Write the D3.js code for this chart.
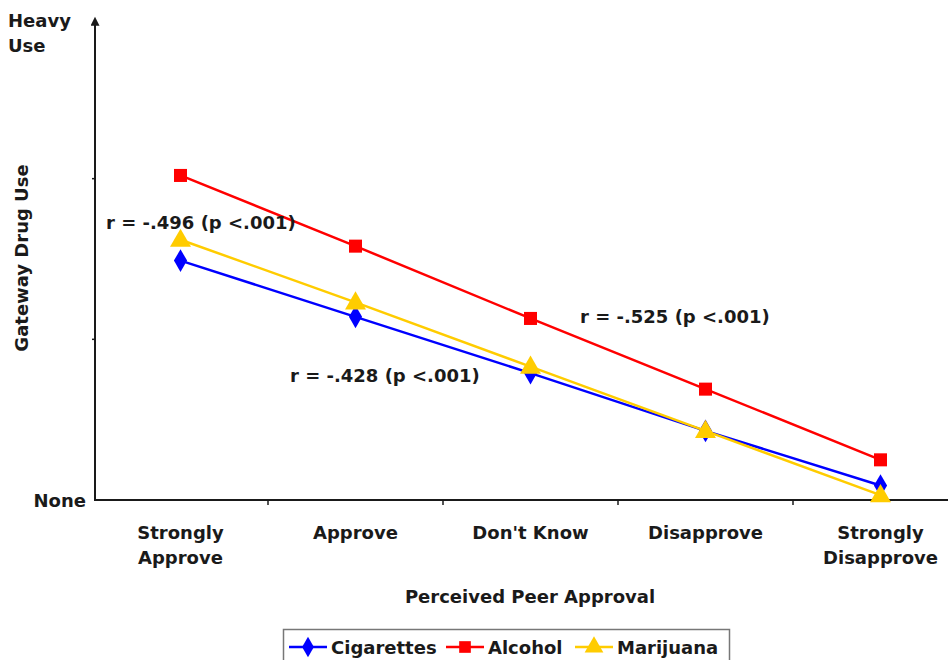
<!DOCTYPE html>
<html>
<head>
<meta charset="utf-8">
<script src="https://cdn.jsdelivr.net/npm/d3@7"></script>
<style>
  body { margin: 0; background: #fff; }
  text { font-family: "DejaVu Sans", sans-serif; font-weight: bold; fill: #1a1a1a; }
</style>
</head>
<body>
<div id="wrapper"></div>
<script>
// categories on the x axis (two-line labels)
const categories = ["Strongly Approve", "Approve", "Don't Know", "Disapprove", "Strongly Disapprove"];
const categoryLines = [["Strongly", "Approve"], ["Approve"], ["Don't Know"], ["Disapprove"], ["Strongly", "Disapprove"]];

// series values (0 = None, 3 = Heavy Use)
const cigarettes = [1.49, 1.14, 0.79, 0.43, 0.09];
const alcohol = [2.02, 1.58, 1.13, 0.69, 0.25];
const marijuana = [1.62, 1.23, 0.83, 0.43, 0.03];

const seriesNames = ["Cigarettes", "Alcohol", "Marijuana"];
const seriesColors = ["#0000ff", "#ff0000", "#ffcc00"];
const seriesShapes = [d3.symbolDiamond, d3.symbolSquare, d3.symbolTriangle];

const annotations = ["r = -.496 (p <.001)", "r = -.525 (p <.001)", "r = -.428 (p <.001)"];

const width = 948;
const height = 660;
const fs = 18;

const canvas = d3.select("#wrapper")
  .append("svg")
  .attr("width", width)
  .attr("height", height);

const xScale = d3.scaleBand()
  .domain(categories)
  .range([93, 968]);

const yScale = d3.scaleLinear()
  .domain([0, 3])
  .range([500, 18]);

// y axis with arrow
canvas.append("defs").append("marker")
  .attr("id", "arrow")
  .attr("viewBox", "0 0 10 10")
  .attr("refX", 2).attr("refY", 5)
  .attr("markerWidth", 10).attr("markerHeight", 9)
  .attr("markerUnits", "userSpaceOnUse")
  .attr("orient", "auto")
  .append("path")
  .attr("d", "M0,0 L10,5 L0,10 Z")
  .attr("fill", "#1a1a1a");

canvas.append("line")
  .attr("x1", 95).attr("x2", 95)
  .attr("y1", 501).attr("y2", yScale(3) + 6)
  .attr("stroke", "#1a1a1a").attr("stroke-width", 2)
  .attr("marker-end", "url(#arrow)");

// small y ticks
canvas.selectAll(".ytick")
  .data([1, 2])
  .enter().append("line")
  .attr("x1", 92).attr("x2", 95)
  .attr("y1", d => yScale(d)).attr("y2", d => yScale(d))
  .attr("stroke", "#1a1a1a").attr("stroke-width", 1.5);

// x axis
canvas.append("line")
  .attr("x1", 94).attr("x2", width)
  .attr("y1", 500).attr("y2", 500)
  .attr("stroke", "#1a1a1a").attr("stroke-width", 2);

canvas.selectAll(".xtick")
  .data(categories.slice(1))
  .enter().append("line")
  .attr("x1", d => xScale(d)).attr("x2", d => xScale(d))
  .attr("y1", 500).attr("y2", 505)
  .attr("stroke", "#1a1a1a").attr("stroke-width", 1.5);

// category labels
categories.forEach(function(c, i) {
  const t = canvas.append("text")
    .attr("x", xScale(c) + xScale.bandwidth() / 2)
    .attr("y", 539)
    .attr("text-anchor", "middle")
    .attr("font-size", fs);
  categoryLines[i].forEach(function(line, j) {
    t.append("tspan")
      .attr("x", xScale(c) + xScale.bandwidth() / 2)
      .attr("dy", j === 0 ? 0 : 25)
      .text(line);
  });
});

// y labels
canvas.append("text").attr("x", 8).attr("y", 27).attr("font-size", fs).text("Heavy");
canvas.append("text").attr("x", 8).attr("y", 52).attr("font-size", fs).text("Use");
canvas.append("text").attr("x", 86).attr("y", 507).attr("text-anchor", "end").attr("font-size", fs).text("None");

canvas.append("text")
  .attr("transform", "translate(28,258) rotate(-90)")
  .attr("text-anchor", "middle")
  .attr("font-size", fs)
  .text("Gateway Drug Use");

canvas.append("text")
  .attr("x", 530).attr("y", 603)
  .attr("text-anchor", "middle")
  .attr("font-size", fs)
  .text("Perceived Peer Approval");

// series
const allSeries = [cigarettes, alcohol, marijuana];
const line = d3.line()
  .x((d, i) => xScale(categories[i]) + xScale.bandwidth() / 2)
  .y(d => yScale(d));

const markerSizes = [150, 170, 190];

allSeries.forEach(function(values, s) {
  canvas.append("path")
    .attr("d", line(values))
    .attr("fill", "none")
    .attr("stroke", seriesColors[s])
    .attr("stroke-width", 2.5);
  canvas.selectAll(".m" + s)
    .data(values)
    .enter().append("path")
    .attr("transform", (d, i) => "translate(" + (xScale(categories[i]) + xScale.bandwidth() / 2) + "," + (yScale(d) + (s === 2 ? 1 : 0)) + ")")
    .attr("d", d3.symbol().type(seriesShapes[s]).size(markerSizes[s]))
    .attr("fill", seriesColors[s]);
});

// correlation annotations
canvas.append("text").attr("x", 106).attr("y", 229).attr("font-size", fs).text(annotations[0]);
canvas.append("text").attr("x", 580).attr("y", 323).attr("font-size", fs).text(annotations[1]);
canvas.append("text").attr("x", 290).attr("y", 382).attr("font-size", fs).text(annotations[2]);

// legend
const legend = canvas.append("g");
legend.append("rect")
  .attr("x", 283.5).attr("y", 629.5)
  .attr("width", 446).attr("height", 40)
  .attr("fill", "#fff")
  .attr("stroke", "#777").attr("stroke-width", 1.5);

const legendX = [289, 446, 575];
seriesNames.forEach(function(name, s) {
  const x0 = legendX[s];
  legend.append("line")
    .attr("x1", x0).attr("x2", x0 + 38)
    .attr("y1", 647).attr("y2", 647)
    .attr("stroke", seriesColors[s]).attr("stroke-width", 2.5);
  legend.append("path")
    .attr("transform", "translate(" + (x0 + 19) + ",647)")
    .attr("d", d3.symbol().type(seriesShapes[s]).size(markerSizes[s] * 0.8))
    .attr("fill", seriesColors[s]);
  legend.append("text")
    .attr("x", x0 + 42).attr("y", 654)
    .attr("font-size", fs)
    .text(name);
});
</script>
</body>
</html>
